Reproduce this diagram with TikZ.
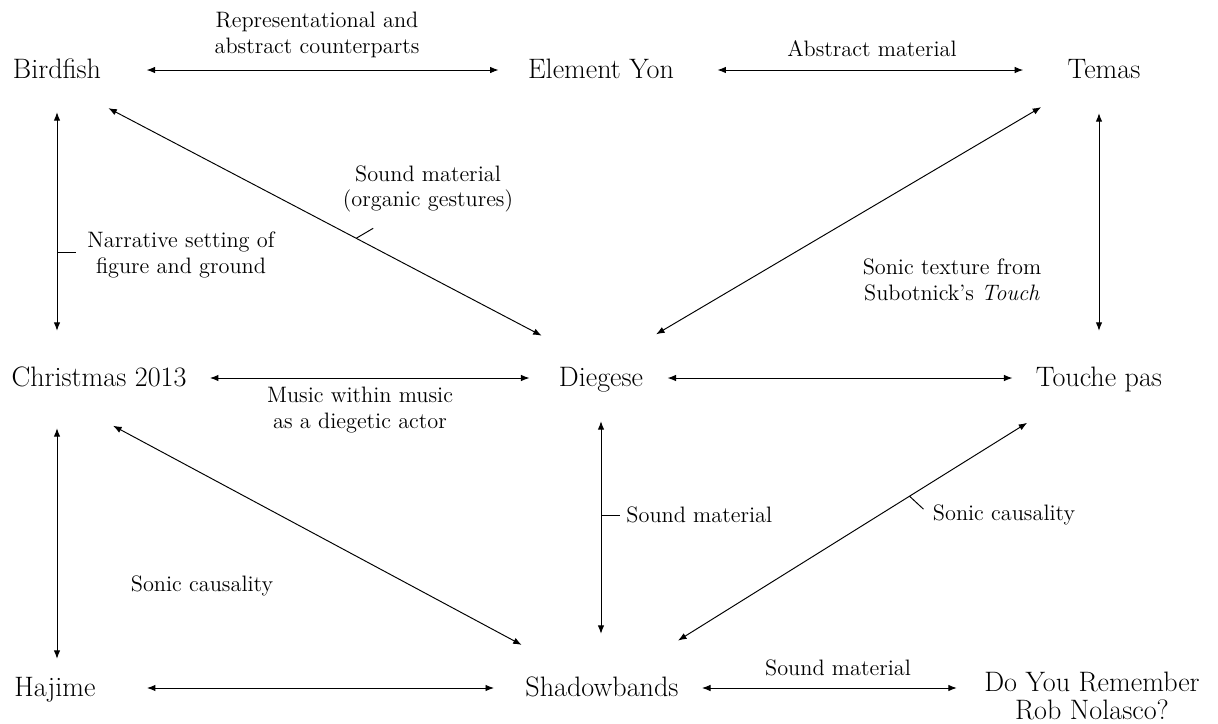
\documentclass[tikz,border=0pt]{standalone}
\usepackage{tikz}
\usetikzlibrary{arrows.meta,calc,positioning}
\begin{document}
\begin{tikzpicture}[x=0.02cm,y=-0.02cm,line width=0.55pt,>={Latex[length=1.7mm,width=1.3mm]},
  work/.style={font=\fontsize{16}{17}\selectfont,inner sep=0pt,text height=11.2pt,text depth=1pt},
  note/.style={font=\fontsize{12.7}{14.5}\selectfont,inner sep=0pt,align=center},
  link/.style={<->}]
\useasboundingbox (0,0) rectangle (1218,724);
\node[work] (birdfish) at (57,70) {Birdfish};
\node[work] (yon) at (601,70) {Element Yon};
\node[work] (temas) at (1104,70) {Temas};
\node[work] (xmas) at (99,378) {Christmas 2013};
\node[work] (diegese) at (601,378) {Diegese};
\node[work] (touche) at (1099,378) {Touche pas};
\node[work] (hajime) at (55,688) {Hajime};
\node[work] (shadow) at (602,688) {Shadowbands};
\node[font=\fontsize{16}{16}\selectfont,inner sep=0pt,align=center] (rob) at (1092,696) {Do You Remember\\Rob Nolasco?};
\draw[link,shorten <=9mm,shorten >=5.8mm] (birdfish.east) -- (yon.west);
\draw[link,shorten <=8.6mm,shorten >=8.8mm] (yon.east) -- (temas.west);
\draw[link,shorten <=4.6mm,shorten >=5.8mm] (xmas.east) -- (diegese.west);
\draw[link,shorten <=4.8mm,shorten >=4.6mm] (diegese.east) -- (touche.west);
\draw[link,shorten <=10.2mm,shorten >=6.2mm] (hajime.east) -- (shadow.west);
\draw[link,shorten <=4.6mm,shorten >=5.4mm] (shadow.east) -- (shadow.east -| rob.west);
\draw[link,shorten <=6.2mm,shorten >=7.2mm] (birdfish.south) -- coordinate[pos=0.6] (t2) (birdfish.south |- xmas.north);
\draw[link,shorten <=7.8mm,shorten >=3.6mm] (xmas.south -| birdfish) -- (hajime.north -| birdfish);
\draw[link,shorten <=6.4mm,shorten >=8.6mm] (diegese.south) -- coordinate[pos=0.44] (t3) (diegese.south |- shadow.north);
\draw[link,shorten <=6.4mm,shorten >=7.2mm] (touche.north |- temas.south) -- (touche.north);
\draw[link,shorten <=11.6mm,shorten >=13.4mm] (birdfish.south) -- coordinate[pos=0.55] (t1) (diegese.north);
\draw[link,shorten <=10.2mm,shorten >=12.8mm] (temas) -- (diegese.north);
\draw[link,shorten <=3.2mm,shorten >=13.5mm] ([yshift=-5.8mm]xmas.south) -- (shadow);
\draw[link,shorten <=12.7mm,shorten >=13.7mm] (touche) -- coordinate[pos=0.372] (t4) (shadow);
\node[note] (repr) at (317,35) {Representational and\\abstract counterparts};
\node[note] (abstr) at (872,49) {Abstract material};
\node[note] (organic) at (428,189) {Sound material\\(organic gestures)};
\node[note] (narr) at (181,255) {Narrative setting of\\figure and ground};
\node[note] (texture) at (952,280) {Sonic texture from\\Subotnick's \textit{Touch}};
\node[note] (actor) at (360,410) {Music within music\\as a diegetic actor};
\node[note] (causleft) at (202,586) {Sonic causality};
\node[note,anchor=west] (sndmid) at (626,515) {Sound material};
\node[note] (causright) at (1004,515) {Sonic causality};
\node[note] (sndbot) at (838,668) {Sound material};
\draw (t1) -- ++(17,-10);
\draw[shorten >=2.2mm] (t2) -- (t2 -| narr.west);
\draw[shorten >=1.2mm] (t3) -- (t3 -| sndmid.west);
\draw (t4) -- ++(14,13);
\end{tikzpicture}
\end{document}
